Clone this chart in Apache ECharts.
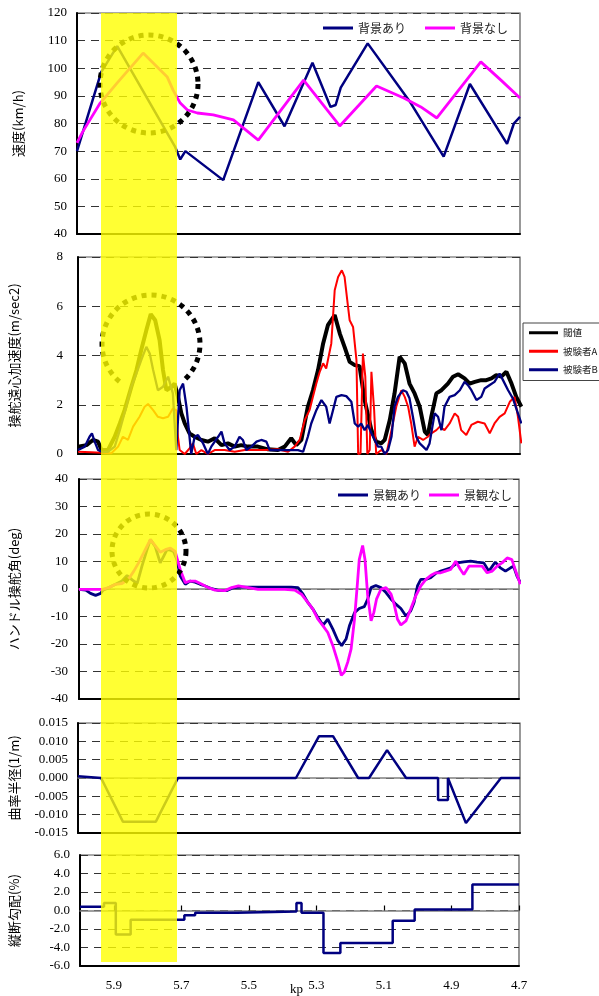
<!DOCTYPE html>
<html><head><meta charset="utf-8">
<script src="https://cdn.jsdelivr.net/npm/echarts@6/dist/echarts.min.js"></script>
<style>html,body{margin:0;padding:0;background:#fff}#c{width:599px;height:996px}</style>
</head><body><div id="c"></div>
<script>
// x: kp (6.0 -> 4.7, inverted)
const kpTickLabels = [5.9, 5.7, 5.5, 5.3, 5.1, 4.9, 4.7];
const speedTicks = [40, 120, 10];
const accTicks = [0, 8, 2];
const angleTicks = [-40, 40, 10];
const curvTicks = [-0.015, 0.015, 0.005];
const gradTicks = [-6, 6, 2];

// Panel 1: speed (km/h)
const speedWithBg = [[6.0,70],[5.929,98.6],[5.882,108],[5.712,71.5],[5.697,67],[5.682,70],[5.571,59.5],[5.468,95],[5.391,79],[5.309,102],[5.256,86],[5.241,86.7],[5.226,93],[5.147,109],[5.021,87.5],[4.924,68],[4.847,94.3],[4.738,72.6],[4.718,80],[4.70,82.4]];
const speedNoBg = [[6.0,73],[5.985,76.6],[5.971,79.5],[5.932,87.4],[5.882,94.7],[5.806,105.5],[5.735,96.8],[5.718,92.1],[5.697,87.4],[5.676,84.9],[5.647,83.8],[5.6,83.1],[5.541,81.3],[5.468,74],[5.335,95.7],[5.229,79.1],[5.121,93.6],[5.041,89.2],[4.991,86],[4.944,82],[4.815,102.3],[4.756,95.7],[4.70,89.2]];

// Panel 2: steering centrifugal acceleration (m/sec2)
const accThreshold = [[6.000,0.30],[5.975,0.36],[5.956,0.57],[5.941,0.50],[5.931,0.16],[5.912,0.16],[5.892,0.70],[5.877,1.24],[5.863,1.78],[5.843,2.73],[5.828,3.41],[5.814,4.22],[5.799,5.03],[5.786,5.68],[5.773,5.43],[5.760,4.62],[5.750,3.41],[5.740,2.59],[5.725,2.73],[5.716,2.86],[5.706,2.32],[5.696,1.65],[5.686,1.24],[5.672,0.84],[5.657,0.70],[5.637,0.57],[5.618,0.50],[5.598,0.64],[5.578,0.36],[5.559,0.43],[5.539,0.30],[5.520,0.36],[5.500,0.30],[5.471,0.30],[5.441,0.19],[5.412,0.16],[5.392,0.30],[5.373,0.64],[5.358,0.36],[5.343,0.57],[5.324,1.92],[5.309,2.59],[5.294,3.41],[5.279,4.49],[5.265,5.23],[5.245,5.64],[5.230,4.89],[5.216,4.35],[5.201,3.74],[5.186,3.61],[5.172,3.57],[5.157,2.19],[5.137,0.97],[5.123,0.50],[5.108,0.43],[5.098,0.57],[5.083,1.38],[5.069,2.46],[5.054,3.95],[5.039,3.68],[5.025,2.86],[5.010,2.46],[4.995,1.92],[4.980,0.91],[4.971,0.77],[4.961,1.51],[4.946,2.46],[4.931,2.59],[4.912,2.86],[4.897,3.14],[4.882,3.24],[4.863,3.07],[4.848,2.86],[4.833,2.93],[4.814,3.00],[4.799,3.00],[4.784,3.07],[4.770,3.20],[4.755,3.14],[4.740,3.34],[4.725,2.86],[4.711,2.32],[4.696,1.92]];
const accSubjectA = [[6.000,0.09],[5.961,0.07],[5.931,0.05],[5.902,0.03],[5.882,0.30],[5.868,0.70],[5.853,0.57],[5.838,1.11],[5.819,1.51],[5.804,1.92],[5.794,2.03],[5.779,1.78],[5.765,1.51],[5.750,1.45],[5.735,1.51],[5.721,1.85],[5.711,1.78],[5.706,0.70],[5.701,0.16],[5.686,0.00],[5.672,0.23],[5.662,0.43],[5.652,0.00],[5.637,0.16],[5.618,0.00],[5.598,0.16],[5.569,0.16],[5.539,0.09],[5.510,0.16],[5.480,0.16],[5.451,0.16],[5.412,0.19],[5.382,0.09],[5.363,0.30],[5.348,0.57],[5.333,1.38],[5.319,1.78],[5.309,2.32],[5.299,2.86],[5.289,3.34],[5.279,3.68],[5.270,3.47],[5.255,4.49],[5.245,6.65],[5.235,7.19],[5.224,7.46],[5.216,7.19],[5.208,6.24],[5.201,5.43],[5.191,5.16],[5.181,3.81],[5.176,0.00],[5.169,0.03],[5.162,4.08],[5.155,3.14],[5.149,0.00],[5.142,0.16],[5.137,3.34],[5.129,1.78],[5.123,0.00],[5.108,0.16],[5.093,0.00],[5.078,0.97],[5.064,1.92],[5.049,2.59],[5.039,2.32],[5.029,1.92],[5.020,1.24],[5.010,0.30],[5.000,0.70],[4.985,0.57],[4.971,0.70],[4.961,0.84],[4.946,0.97],[4.936,1.11],[4.922,0.97],[4.907,1.24],[4.892,1.65],[4.882,1.51],[4.873,0.97],[4.858,0.77],[4.843,1.18],[4.824,1.31],[4.804,1.24],[4.789,0.84],[4.775,1.24],[4.760,1.51],[4.745,1.65],[4.730,2.12],[4.716,2.32],[4.706,1.51],[4.696,0.43]];
const accSubjectB = [[6.000,0.16],[5.980,0.30],[5.966,0.70],[5.959,0.84],[5.951,0.50],[5.941,0.16],[5.931,0.09],[5.912,0.09],[5.892,0.30],[5.877,0.97],[5.858,1.92],[5.843,2.73],[5.828,3.27],[5.814,3.81],[5.799,4.35],[5.789,4.08],[5.779,3.41],[5.765,2.59],[5.750,2.73],[5.735,3.14],[5.721,2.46],[5.711,0.16],[5.701,2.59],[5.691,2.86],[5.681,1.92],[5.672,0.70],[5.667,0.00],[5.657,0.70],[5.647,0.77],[5.632,0.43],[5.618,0.00],[5.608,0.30],[5.588,0.70],[5.578,0.91],[5.569,0.43],[5.554,0.16],[5.539,0.30],[5.525,0.70],[5.515,0.57],[5.505,0.16],[5.490,0.30],[5.475,0.50],[5.461,0.57],[5.446,0.50],[5.436,0.16],[5.422,0.16],[5.402,0.16],[5.373,0.16],[5.353,0.16],[5.338,0.09],[5.324,0.70],[5.314,1.24],[5.299,1.78],[5.284,2.19],[5.270,1.92],[5.260,1.24],[5.250,1.78],[5.240,2.32],[5.225,2.39],[5.211,2.35],[5.196,2.12],[5.186,1.24],[5.176,1.11],[5.167,1.24],[5.157,0.97],[5.147,1.18],[5.137,0.84],[5.127,0.57],[5.118,0.30],[5.108,0.30],[5.098,0.00],[5.088,0.16],[5.078,0.70],[5.069,1.92],[5.059,2.32],[5.044,2.59],[5.034,2.53],[5.025,2.26],[5.015,1.51],[5.005,0.70],[4.995,0.43],[4.985,0.30],[4.975,0.16],[4.966,0.43],[4.951,1.65],[4.941,1.51],[4.931,0.97],[4.922,1.92],[4.907,2.32],[4.892,2.39],[4.877,2.59],[4.863,2.93],[4.853,2.80],[4.843,2.59],[4.828,2.19],[4.814,2.32],[4.804,2.66],[4.789,2.80],[4.775,2.93],[4.760,3.27],[4.750,3.00],[4.735,2.59],[4.721,2.26],[4.711,1.85],[4.696,1.24]];

// Panel 3: steering wheel angle (deg)
const angleWithView = [[6.000,-0.1],[5.980,-0.4],[5.966,-1.6],[5.951,-2.3],[5.936,-1.6],[5.929,-0.4],[5.912,0.5],[5.892,1.7],[5.873,2.9],[5.858,4.9],[5.843,3.3],[5.828,2.0],[5.814,8.3],[5.799,14.3],[5.789,18.0],[5.775,15.5],[5.760,9.5],[5.750,11.9],[5.740,14.3],[5.730,14.1],[5.721,13.7],[5.711,10.7],[5.701,4.7],[5.686,1.7],[5.672,2.9],[5.657,2.5],[5.642,1.7],[5.627,1.1],[5.608,0.1],[5.588,-0.5],[5.564,-0.6],[5.544,0.5],[5.520,0.7],[5.490,0.7],[5.451,0.7],[5.412,0.7],[5.373,0.7],[5.353,0.5],[5.338,-1.9],[5.324,-4.9],[5.309,-7.3],[5.294,-10.4],[5.279,-13.1],[5.265,-11.0],[5.250,-14.6],[5.235,-18.8],[5.224,-20.6],[5.211,-18.2],[5.201,-13.4],[5.186,-8.6],[5.172,-7.1],[5.157,-6.4],[5.147,-3.7],[5.137,0.5],[5.123,1.3],[5.108,0.5],[5.093,-1.3],[5.078,-3.7],[5.064,-5.5],[5.049,-7.1],[5.034,-9.8],[5.020,-8.0],[5.010,-4.9],[5.000,1.1],[4.990,3.5],[4.975,3.5],[4.961,4.1],[4.946,5.7],[4.931,6.5],[4.917,7.1],[4.902,7.7],[4.882,9.5],[4.863,9.9],[4.843,10.1],[4.824,9.8],[4.804,9.5],[4.789,6.5],[4.770,9.8],[4.755,7.7],[4.740,6.5],[4.725,7.7],[4.716,8.3],[4.706,4.7],[4.696,2.3]];
const angleNoView = [[6.000,-0.1],[5.931,-0.1],[5.912,0.5],[5.892,1.7],[5.873,2.0],[5.853,3.7],[5.838,6.5],[5.824,9.5],[5.809,13.1],[5.789,18.0],[5.775,15.8],[5.760,13.4],[5.745,14.3],[5.730,14.9],[5.716,13.7],[5.701,7.1],[5.686,2.3],[5.672,2.9],[5.657,2.9],[5.637,1.7],[5.618,0.5],[5.598,-0.4],[5.569,-0.6],[5.549,0.5],[5.529,1.1],[5.500,0.5],[5.471,-0.1],[5.431,-0.1],[5.392,-0.1],[5.363,-0.4],[5.343,-1.9],[5.324,-4.9],[5.309,-7.3],[5.294,-11.0],[5.279,-13.4],[5.265,-15.8],[5.250,-20.6],[5.235,-26.6],[5.225,-31.4],[5.216,-30.2],[5.206,-26.6],[5.196,-21.8],[5.186,-11.0],[5.178,1.1],[5.172,10.7],[5.162,15.8],[5.155,10.7],[5.147,-2.5],[5.137,-11.6],[5.129,-8.6],[5.121,-3.7],[5.108,-0.1],[5.093,0.5],[5.078,-1.9],[5.069,-5.5],[5.059,-11.0],[5.049,-13.1],[5.034,-11.6],[5.020,-7.3],[5.005,-2.5],[4.990,1.1],[4.975,3.5],[4.961,4.9],[4.946,5.9],[4.931,5.9],[4.917,6.5],[4.902,7.1],[4.887,10.1],[4.873,7.1],[4.863,5.3],[4.848,8.3],[4.828,8.3],[4.809,8.3],[4.794,5.9],[4.779,6.5],[4.765,8.3],[4.750,9.5],[4.735,11.3],[4.721,10.7],[4.708,5.9],[4.696,1.7]];

// Panel 4: curvature (1/m)
const curvature = [[6.0,0.0005],[5.932,0],[5.868,-0.0119],[5.771,-0.0119],[5.706,0],[5.359,0],[5.291,0.0114],[5.25,0.0114],[5.176,0],[5.144,0],[5.091,0.0076],[5.035,0],[4.941,0],[4.941,-0.006],[4.912,-0.006],[4.912,0],[4.859,-0.0123],[4.756,0],[4.7,0]];

// Panel 5: longitudinal gradient (%)
const gradient = [[6.0,0.4],[5.929,0.4],[5.929,0.8],[5.894,0.8],[5.894,-2.6],[5.85,-2.6],[5.85,-1.0],[5.691,-1.0],[5.691,-0.5],[5.659,-0.5],[5.659,-0.25],[5.535,-0.25],[5.535,-0.1],[5.359,-0.1],[5.359,0.8],[5.344,0.8],[5.344,-0.25],[5.279,-0.25],[5.279,-4.6],[5.229,-4.6],[5.229,-3.5],[5.074,-3.5],[5.074,-1.1],[5.009,-1.1],[5.009,0.1],[4.838,0.1],[4.838,2.8],[4.7,2.8]];

const SERIF = '"Liberation Serif", "Times New Roman", serif';
const JP = '"Noto Sans CJK JP", sans-serif';
const NAVY = '#000080', MAG = '#FF00FF';

const grids = [
  {left:77, right:79, top:13, height:221},
  {left:77, right:79, top:257, height:197},
  {left:78, right:80, top:479, height:220},
  {left:77, right:79, top:723, height:110},
  {left:77, right:80, top:855, height:111}
].map(g => Object.assign({show:true, borderColor:'#555', borderWidth:1.2, backgroundColor:'#fff'}, g));

function xAx(i, extra) {
  return Object.assign({
    type:'value', gridIndex:i, min:4.7, max:6.0, inverse:true,
    axisLine:{show:true, onZero:false, lineStyle:{color:'#000', width:2}},
    axisTick:{show:false}, axisLabel:{show:false}, splitLine:{show:false}
  }, extra || {});
}
function zeroAx(i, ticks) {
  return {
    type:'value', gridIndex:i, min:4.7, max:6.0, inverse:true, position:'bottom',
    axisLine:{show:true, onZero:true, lineStyle:{color:'#808080', width:1.5}},
    axisTick:{show:ticks, inside:true, length:5, customValues:kpTickLabels, lineStyle:{color:'#000', width:1.2}},
    axisLabel:{show:false}, splitLine:{show:false}
  };
}
function yAx(i, t, name, gap, margin, fmt) {
  return {
    type:'value', gridIndex:i, min:t[0], max:t[1], interval:t[2],
    name:name, nameLocation:'middle', nameRotate:90, nameGap:gap,
    nameTextStyle:{fontFamily:JP, fontSize:13, color:'#000'},
    axisLine:{show:true, lineStyle:{color:'#000', width:2}},
    axisTick:{show:false},
    axisLabel:{fontFamily:SERIF, fontSize:13, color:'#000', margin:margin, formatter:fmt},
    splitLine:{show:true, lineStyle:{color:'#333', type:[8,6], width:1}}
  };
}
const fmtInt = v => String(Math.round(v));
const fmt3 = v => (Math.abs(v) < 1e-9 ? 0 : v).toFixed(3);
const fmt1 = v => (Math.abs(v) < 1e-9 ? 0 : v).toFixed(1);

function line(name, data, xi, yi, color, width, z) {
  return {type:'line', name:name, data:data, xAxisIndex:xi, yAxisIndex:yi, symbol:'none',
    lineStyle:{color:color, width:width}, itemStyle:{color:color}, z:z||2, animation:false};
}

const dotStyle = {fill:'none', stroke:'#000', lineWidth:5, lineDash:[5,5]};

const option = {
  animation:false,
  grid:grids,
  xAxis:[
    xAx(0), xAx(1), xAx(2), xAx(3),
    xAx(4, {axisLabel:{show:true, customValues:kpTickLabels, fontFamily:SERIF, fontSize:13, color:'#000', margin:13, formatter:v=>v.toFixed(1)}}),
    zeroAx(2,false), zeroAx(3,false), zeroAx(4,true)
  ],
  yAxis:[
    yAx(0, speedTicks, '速度(km/h)', 52, 10, fmtInt),
    yAx(1, accTicks, '操舵遠心加速度(m/sec2)', 57, 15, fmtInt),
    yAx(2, angleTicks, 'ハンドル操舵角(deg)', 58, 11, fmtInt),
    yAx(3, curvTicks, '曲率半径(1/m)', 57, 10, fmt3),
    yAx(4, gradTicks, '縦断勾配(%)', 59, 10, fmt1)
  ],
  legend:[
    {data:['背景あり','背景なし'], left:323, top:22, padding:0, itemGap:19, itemWidth:30, itemHeight:3, icon:'rect',
     textStyle:{fontFamily:JP, fontSize:12, color:'#222'}},
    {data:['閾値','被験者A','被験者B'], orient:'vertical', left:523, top:323, padding:[5,6,6,6], itemGap:9, itemWidth:29, itemHeight:3, icon:'rect',
     borderColor:'#444', borderWidth:1, backgroundColor:'#fff',
     textStyle:{fontFamily:JP, fontSize:9.5, color:'#222'}},
    {data:['景観あり','景観なし'], left:338, top:489, padding:0, itemGap:8, itemWidth:30, itemHeight:3, icon:'rect',
     textStyle:{fontFamily:JP, fontSize:12, color:'#222'}}
  ],
  series:[
    line('背景あり', speedWithBg, 0, 0, NAVY, 2.5),
    line('背景なし', speedNoBg, 0, 0, MAG, 2.8),
    line('閾値', accThreshold, 1, 1, '#000', 4),
    line('被験者A', accSubjectA, 1, 1, '#FF0000', 2),
    line('被験者B', accSubjectB, 1, 1, NAVY, 2.3),
    line('景観あり', angleWithView, 2, 2, NAVY, 2.8),
    line('景観なし', angleNoView, 2, 2, MAG, 2.8),
    line('曲率', curvature, 3, 3, NAVY, 2.5),
    line('勾配', gradient, 4, 4, NAVY, 2.5)
  ],
  graphic:[
    {type:'circle', shape:{cx:149, cy:84, r:49}, style:dotStyle, z:50},
    {type:'arc', shape:{cx:151, cy:344, r:49, startAngle:2.27, endAngle:7.17, clockwise:true}, style:dotStyle, z:50},
    {type:'circle', shape:{cx:149, cy:551, r:37}, style:dotStyle, z:50},
    {type:'rect', shape:{x:101, y:13, width:76, height:949}, style:{fill:'rgba(255,255,0,0.80)'}, z:60},
    {type:'text', left:290, top:983, style:{text:'kp', font:'13px "Liberation Serif"', fill:'#000'}, z:70}
  ]
};

const chart = echarts.init(document.getElementById('c'), null, {renderer:'canvas'});
chart.setOption(option);
</script></body></html>
